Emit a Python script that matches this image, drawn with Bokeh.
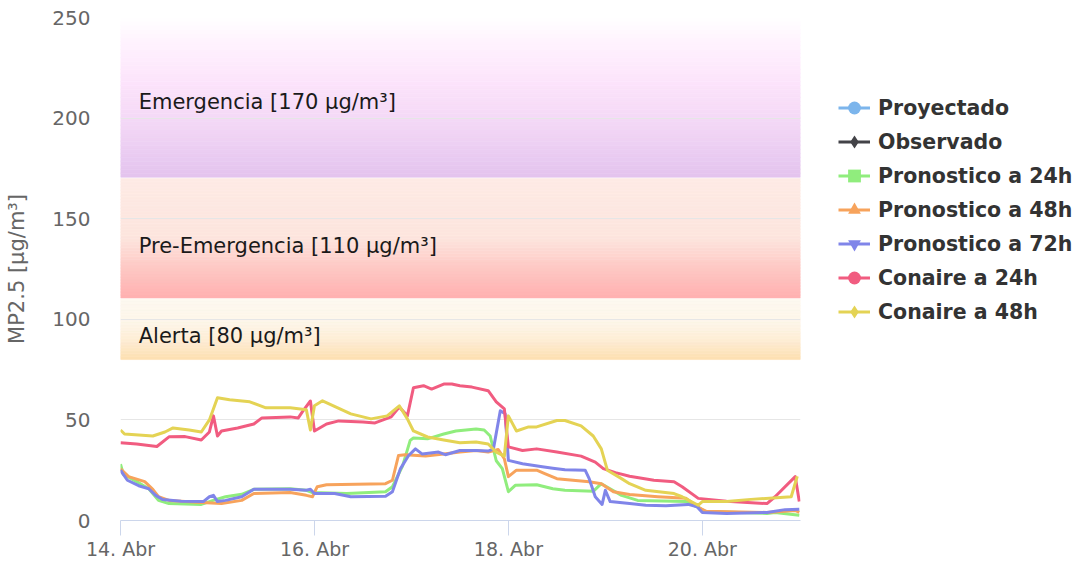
from datetime import datetime, timedelta
from bokeh.plotting import figure
from bokeh.layouts import row
from bokeh.models import (Range1d, FixedTicker, DatetimeTickFormatter, Legend,
                          LegendItem, Label)
from bokeh.embed import file_html
from bokeh.resources import INLINE

# ---------------- data (hours since 14 Abr 00:00, value µg/m3) ----------------
BASE = datetime(2019, 4, 14)

pron24_h = [0, 0.7, 4, 7, 9.4, 12, 20, 23.5, 26, 30, 33, 42, 46, 47.5, 56, 65.6, 67.3,
            69.8, 71.7, 72.5, 76, 80, 83, 88, 90, 91.5, 93, 94.5, 96, 97.7, 103, 107,
            110, 117, 119, 124, 128, 140, 143.5, 144.7, 160, 162, 168]
pron24_v = [28, 23, 19.3, 15.8, 10, 8.4, 8, 10.4, 11.8, 13, 15.5, 15.8, 15, 13.9, 13.4,
            14.3, 16.8, 27, 39.8, 41, 40.6, 43, 44.5, 45.5, 45, 42, 29.7, 25.8, 14.3,
            17.5, 17.8, 15.8, 15, 14.5, 18.3, 12.5, 10, 9.4, 6, 4.5, 3.5, 4, 2.6]

pron48_h = [0, 2, 6, 8, 9.4, 12, 20, 25, 30, 33, 42, 46, 47.5, 48.7, 51, 65.6, 67.3,
            68.8, 70.5, 75.5, 80, 84, 88, 91, 93.5, 95, 96, 98, 103, 105, 108, 116,
            119, 122, 126, 133, 140, 143.5, 145, 160, 167, 168]
pron48_v = [25.7, 21.8, 19.3, 15.5, 11.8, 10, 9, 8.4, 10, 13.4, 13.9, 12.5, 11.8, 16.8,
            17.8, 18.3, 20, 32.3, 32.7, 32, 33, 34, 34.8, 34, 35.3, 30.7, 21.8, 25, 25,
            23.3, 20.8, 19.3, 18.3, 14.3, 12.9, 11.8, 11, 6, 4.6, 4, 5, 4]

pron72_h = [0, 1.7, 4.5, 7, 8.7, 10.4, 15, 20.5, 22, 23, 24, 26, 30, 33, 42, 46, 47,
            48, 53, 57, 65.6, 67.3, 69.3, 71.3, 73, 74.7, 78.7, 80.4, 84, 88, 91, 92.3,
            94, 95.2, 96, 99.5, 104.4, 107, 110, 115, 116, 117.5, 119.2, 120, 121.2,
            126, 130, 135, 140.5, 142.7, 144, 150, 160, 164.5, 168]
pron72_v = [25, 20, 17.3, 15.8, 12.5, 10.4, 9.6, 9.4, 11.8, 12.5, 9.4, 10, 11.8, 15.5,
            15.5, 15, 15.5, 13.4, 13.4, 11.8, 12, 14.3, 25.8, 32.3, 35.6, 33, 34, 32.7,
            34.8, 34.8, 34.5, 35.6, 54.6, 53, 29.9, 28.2, 26.7, 26, 25.2, 25, 20.8, 11.8,
            8, 15, 9.4, 8.4, 7.6, 7.3, 8, 6.8, 4, 3.5, 4, 5.4, 5.6]

con24_h = [0, 4, 9, 12, 16, 20, 22, 23, 24, 25, 29, 33, 35, 42, 44, 45, 47, 48, 51, 54,
           60, 63, 67, 69, 71, 72.5, 75, 77, 80, 82, 84, 87, 91, 93, 95, 96, 99.5, 103,
           108, 114, 117.5, 119.5, 122.5, 126, 132, 137, 139, 143, 150, 160, 162, 167,
           168]
con24_v = [38.6, 38, 36.8, 41.6, 41.7, 40, 44, 52, 42, 44.5, 46, 48, 51, 51.5, 51, 54,
           59.4, 44.5, 48, 49.5, 49, 48.5, 51.5, 56.4, 52, 66, 67, 65.3, 67.8, 67.8, 67,
           66.3, 64.5, 59, 55.5, 36.6, 34.8, 35.6, 34, 32, 29, 25.8, 23.8, 22, 20, 19.3,
           16.8, 11, 9.6, 8.4, 11.8, 21.8, 9.4]

con48_h = [0, 1, 8, 11, 13, 17, 20, 22, 24, 27, 32, 36, 42, 46, 47, 48, 50, 57, 62, 66,
           69, 71, 72.5, 76, 80, 84, 88, 91, 93, 95, 96, 98, 101, 103, 108, 110, 114,
           117, 119, 120.5, 124, 126, 130, 137, 139, 143, 144, 150, 156, 166, 167.5]
con48_v = [45, 43, 42, 44, 46, 45, 44, 50, 61, 60, 59, 56, 56, 55, 45, 57, 59.5, 53,
           50.5, 52, 57, 50.5, 44.5, 41.5, 40, 38.6, 39, 38, 34, 32, 52, 44.5, 46.5,
           46.5, 49.7, 49.7, 47, 42, 35.6, 25, 20.8, 18.3, 15, 13.4, 11.8, 7.6, 9.4,
           9.4, 10.5, 11.8, 22]

series_names = ["Proyectado", "Observado", "Pronostico a 24h", "Pronostico a 48h",
                "Pronostico a 72h", "Conaire a 24h", "Conaire a 48h"]
series_hours = [[], [], pron24_h, pron48_h, pron72_h, con24_h, con48_h]
series_vals = [[], [], pron24_v, pron48_v, pron72_v, con24_v, con48_v]

band_names = ["Alerta [80 µg/m³]", "Pre-Emergencia [110 µg/m³]", "Emergencia [170 µg/m³]"]
band_low = [80, 110, 170]
band_high = [110, 170, 250]

y_ticks = [0, 50, 100, 150, 200, 250]
x_tick_days = [0, 2, 4, 6]

# ---------------- styles ----------------
colors = ["#7cb5ec", "#434348", "#90ed7d", "#f7a35c", "#8085e9", "#f15c80", "#e4d354"]
markers = ["circle", "diamond", "square", "triangle", "inverted_triangle", "circle", "diamond"]
band_stops = [
    [(0.0, "#fddfb0"), (0.3, "#fdecd2"), (0.6, "#fdf5e8"), (1.0, "#fdf8ef")],
    [(0.0, "#ffb0b0"), (0.25, "#fec8c4"), (0.5, "#fde4dd"), (1.0, "#fdebe5")],
    [(0.0, "#e3c3ee"), (0.35, "#f4d8f6"), (0.6, "#fce4fb"), (0.85, "#fff3fe"), (1.0, "#ffffff")],
]
label_y = [91.5, 136.5, 208]
FONT = "DejaVu Sans"
NAN = float("nan")
H = 562
W_MAIN = 808
W_LEG = 268


def hx(v):
    return tuple(int(v[i:i + 2], 16) for i in (1, 3, 5))


def interp_color(stops, f):
    for (f0, c0), (f1, c1) in zip(stops[:-1], stops[1:]):
        if f0 <= f <= f1:
            a = (f - f0) / (f1 - f0) if f1 > f0 else 0
            r0, g0, b0 = hx(c0)
            r1, g1, b1 = hx(c1)
            return "#%02x%02x%02x" % (round(r0 + (r1 - r0) * a), round(g0 + (g1 - g0) * a),
                                      round(b0 + (b1 - b0) * a))
    return stops[-1][1]


def t(h):
    return BASE + timedelta(hours=h)


def ms(dt):
    return (dt - datetime(1970, 1, 1)).total_seconds() * 1000.0


x_start = t(0)
x_end = t(168.3)

p = figure(width=W_MAIN, height=H, x_axis_type="datetime", output_backend="svg",
           toolbar_location=None, x_range=Range1d(x_start, x_end), y_range=Range1d(0, 250),
           min_border_left=120, min_border_right=8, min_border_top=17, min_border_bottom=40)
p.outline_line_color = None
p.background_fill_color = "white"

# bands with vertical gradients (stacked strips)
N = 40
for lo, hi, stops in zip(band_low, band_high, band_stops):
    gap = 0.6 if lo > 80 else 0.0
    bots, tops, cols = [], [], []
    span = (hi - lo - gap)
    for i in range(N):
        bots.append(lo + gap + span * i / N)
        tops.append(lo + gap + span * (i + 1) / N)
        cols.append(interp_color(stops, (i + 0.5) / N))
    p.quad(left=[x_start] * N, right=[x_end] * N, bottom=bots, top=tops,
           fill_color=cols, line_color=cols, line_width=0.6, level="image")

for name, yv in zip(band_names, label_y):
    p.add_layout(Label(x=ms(t(4.5)), y=yv, text=name, text_font=FONT, text_font_size="21px",
                       text_color="#1a1a1a", text_baseline="alphabetic"))

# legend-only figure
q = figure(width=W_LEG, height=H, output_backend="svg", toolbar_location=None,
           x_range=Range1d(0, 1), y_range=Range1d(0, 1), min_border=0)
q.axis.visible = False
q.grid.visible = False
q.outline_line_color = None

items = []
for name, hs, vs, c, m in zip(series_names, series_hours, series_vals, colors, markers):
    if hs:
        p.line(x=[t(h) for h in hs], y=vs, line_color=c, line_width=3, line_join="round")
    ln = q.line(x=[NAN], y=[NAN], line_color=c, line_width=3)
    mk = q.scatter(x=[NAN], y=[NAN], marker=m, fill_color=c, line_color=c, line_width=0)
    items.append(LegendItem(label=name, renderers=[ln, mk]))

legend = Legend(items=items, location=(30, 192), orientation="vertical",
                glyph_width=32, glyph_height=33, spacing=1, label_standoff=8,
                padding=0, margin=0, border_line_color=None, background_fill_alpha=0,
                label_text_font=FONT, label_text_font_size="20.5px",
                label_text_font_style="bold", label_text_color="#333333",
                label_height=24)
q.add_layout(legend)

# axes
p.yaxis.ticker = FixedTicker(ticks=y_ticks)
p.yaxis.axis_line_color = None
p.yaxis.major_tick_line_color = None
p.yaxis.minor_tick_line_color = None
p.yaxis.major_tick_out = 0
p.yaxis.major_tick_in = 0
p.yaxis.major_label_standoff = 30
p.yaxis.major_label_text_font = FONT
p.yaxis.major_label_text_font_size = "20px"
p.yaxis.major_label_text_color = "#666666"
p.yaxis.axis_label = "MP2.5 [µg/m³]"
p.yaxis.axis_label_text_font = FONT
p.yaxis.axis_label_text_font_size = "21px"
p.yaxis.axis_label_text_font_style = "normal"
p.yaxis.axis_label_text_color = "#666666"
p.yaxis.axis_label_standoff = 20

p.xaxis.ticker = FixedTicker(ticks=[ms(t(24 * d)) for d in x_tick_days])
fmt = "%d. Abr"
p.xaxis.formatter = DatetimeTickFormatter(days=fmt, months=fmt, hours=fmt, hourmin=fmt,
                                          years=fmt, minutes=fmt, context=None)
p.xaxis.axis_line_color = "#ccd6eb"
p.xaxis.axis_line_width = 1
p.xaxis.major_tick_line_color = "#ccd6eb"
p.xaxis.major_tick_out = 15
p.xaxis.major_tick_in = 0
p.xaxis.minor_tick_line_color = None
p.xaxis.major_label_standoff = 2
p.xaxis.major_label_text_font = FONT
p.xaxis.major_label_text_font_size = "19px"
p.xaxis.major_label_text_color = "#666666"

p.xgrid.grid_line_color = None
p.ygrid.grid_line_color = "#e6e6e6"
p.ygrid.grid_line_width = 1

layout = row(p, q, spacing=0)
open("out.html", "w").write(file_html(layout, INLINE))
